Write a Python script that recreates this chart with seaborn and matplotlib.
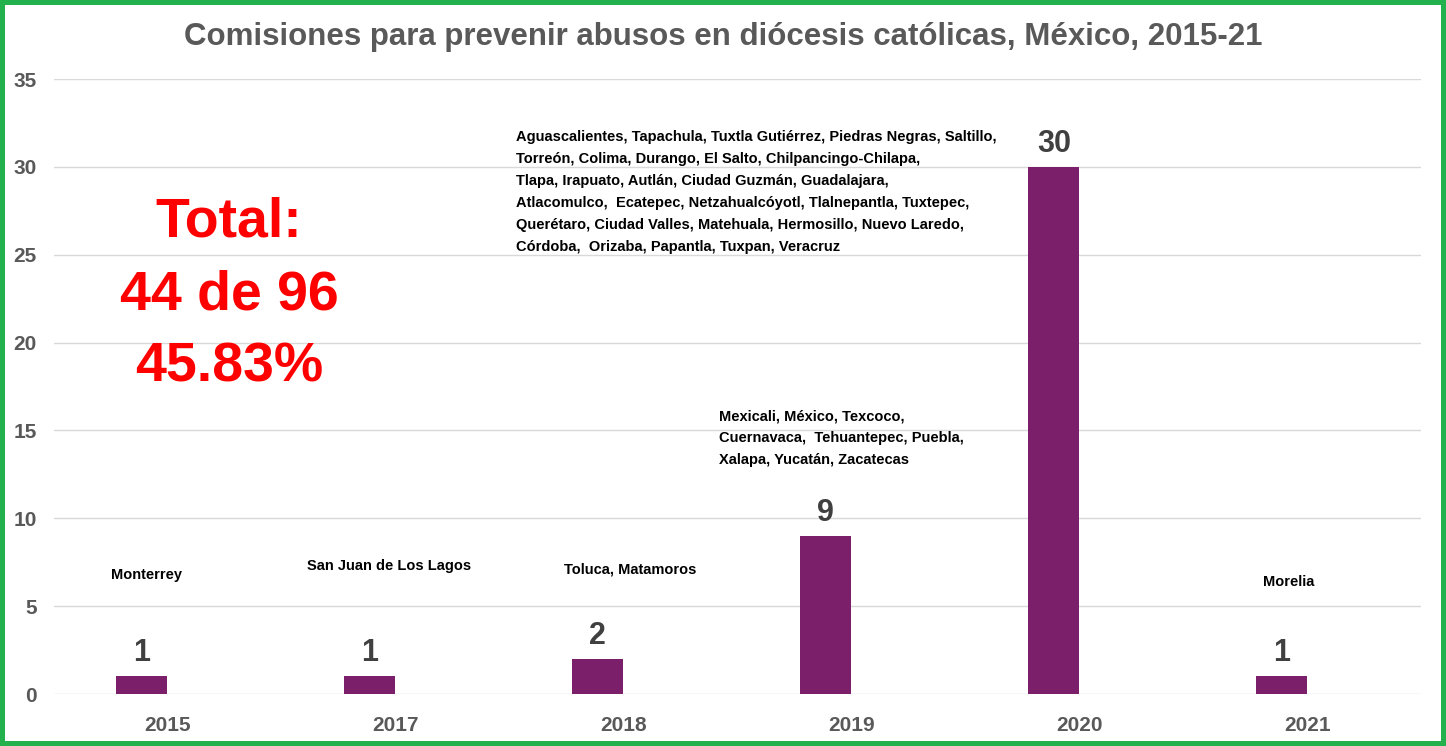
import pandas as pd
import matplotlib.pyplot as plt
import seaborn as sns


# DATOS
anios = ['2015', '2017', '2018', '2019', '2020', '2021']
comisiones = [1, 1, 2, 9, 30, 1]

diocesis = [
    'Monterrey',
    'San Juan de Los Lagos',
    'Toluca, Matamoros',
    'Mexicali, México, Texcoco,\nCuernavaca,  Tehuantepec, Puebla,\nXalapa, Yucatán, Zacatecas',
    'Aguascalientes, Tapachula, Tuxtla Gutiérrez, Piedras Negras, Saltillo,\n'
    'Torreón, Colima, Durango, El Salto, Chilpancingo-Chilapa,\n'
    'Tlapa, Irapuato, Autlán, Ciudad Guzmán, Guadalajara,\n'
    'Atlacomulco,  Ecatepec, Netzahualcóyotl, Tlalnepantla, Tuxtepec,\n'
    'Querétaro, Ciudad Valles, Matehuala, Hermosillo, Nuevo Laredo,\n'
    'Córdoba,  Orizaba, Papantla, Tuxpan, Veracruz',
    'Morelia',
]

total_txt = 'Total:\n44 de 96\n45.83%'
titulo = 'Comisiones para prevenir abusos en diócesis católicas, México, 2015-21'

# segunda serie vacia (como en excel) para que la barra quede a la izquierda
df = pd.DataFrame({
    'anio': anios * 2,
    'n': comisiones + [0] * len(anios),
    'serie': ['comisiones'] * len(anios) + ['vacia'] * len(anios),
})

sns.set_style('white')
plt.rcParams['font.family'] = ['Liberation Sans', 'DejaVu Sans']

GRIS = '#595959'
MORADO = '#7B1F6B'

fig = plt.figure(figsize=(14.46, 7.46), dpi=100)
fig.patch.set_edgecolor('#22B14C')
fig.patch.set_linewidth(7)
ax = fig.add_axes([0.037, 0.0697, 0.946, 0.8244])

sns.barplot(data=df, x='anio', y='n', hue='serie', palette=[MORADO, 'white'],
            width=0.45, linewidth=0, saturation=1, legend=False, ax=ax)

ax.set_ylim(0, 35)
ax.set_xlim(-0.5, 5.5)
ax.set_yticks(range(0, 36, 5))
ax.yaxis.grid(True, color='#D9D9D9', linewidth=1)
ax.set_axisbelow(True)
sns.despine(ax=ax, left=True, bottom=True)
ax.set_xlabel('')
ax.set_ylabel('')
ax.tick_params(axis='x', length=0, pad=16, labelsize=15, labelcolor=GRIS)
ax.tick_params(axis='y', length=0, pad=12, labelsize=15, labelcolor=GRIS)
for lab in ax.get_xticklabels() + ax.get_yticklabels():
    lab.set_fontweight('bold')

ax.bar_label(ax.containers[0], padding=6, fontsize=22, fontweight='bold', color='#404040')

# textos de diocesis
pos_txt = [(-0.09, 6.8, 'center'), (-0.03, 7.3, 'center'), (0.03, 7.1, 'center'),
           (2.42, 16.2, 'left'), (1.53, 32.1, 'left'), (-0.08, 6.4, 'center')]
for i, (dx, y, ha) in enumerate(pos_txt):
    x = i + dx if ha == 'center' else dx
    ax.text(x, y, diocesis[i], ha=ha, va='center' if ha == 'center' else 'top',
            fontsize=10.5, fontweight='bold', color='black', linespacing=1.72)

ax.text(0.27, 22.7, total_txt, ha='center', va='center', fontsize=40,
        fontweight='bold', color='#FF0000', linespacing=1.52)

fig.text(0.5, 0.95, titulo, ha='center', va='center', fontsize=22.5,
         fontweight='bold', color=GRIS)

fig.savefig('out.png', dpi=100, edgecolor=fig.get_edgecolor())
